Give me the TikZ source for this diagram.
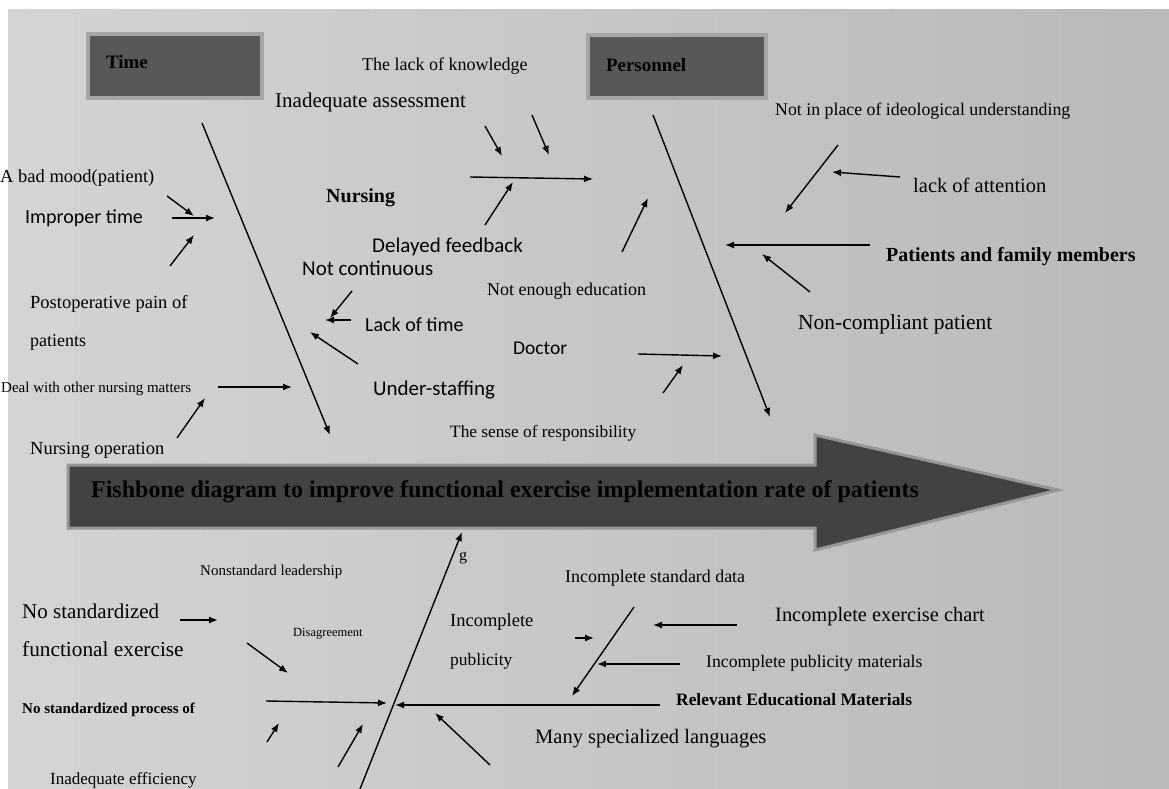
\documentclass[tikz,border=0pt]{standalone}
\usepackage{fontspec}
\setmainfont{Liberation Serif}
\newfontfamily\calfont{Carlito}
\usetikzlibrary{arrows.meta}
\newcommand\fsz[1]{\fontsize{#1}{#1}\selectfont}
\definecolor{bgL}{RGB}{212,212,212}
\definecolor{bgM}{RGB}{224,224,224}
\definecolor{bgR}{RGB}{185,185,185}
\definecolor{boxfill}{RGB}{88,88,88}
\definecolor{boxedge}{RGB}{165,165,165}
\definecolor{spinefill}{RGB}{66,66,66}
\definecolor{spineedge}{RGB}{150,150,150}
\tikzset{
  arr/.style={-{Latex[length=9pt,width=7pt]}, line width=1.4pt},
  lbl/.style={anchor=west, inner sep=0pt, text=black},
  ser/.style={lbl, font=\fsz{#1}},
  serb/.style={lbl, font=\bfseries\fsz{#1}},
  sans/.style={lbl, font=\calfont\fsz{#1}},
  catbox/.style={draw=boxedge, fill=boxfill, line width=4pt, inner xsep=17pt,
     anchor=west, text=black, font=\bfseries\fsz{19}, align=left}
}
\begin{document}
\begin{tikzpicture}[x=1pt,y=-1pt]
\useasboundingbox (0,0) rectangle (1169,789);
\fill[white] (0,0) rectangle (1169,789);
\shade[left color=bgL, middle color=bgM, right color=bgR] (8,10) rectangle (1169,789);

% category boxes
\node[catbox, minimum width=174pt, minimum height=64pt, text width=138pt] (time) at (86,66) {\raisebox{9pt}{Time}};
\node[catbox, minimum width=178pt, minimum height=63pt, text width=142pt] (pers) at (586,67) {\raisebox{4pt}{Personnel}};

% spine
\draw[fill=spinefill, draw=spineedge, line width=3pt]
  (68,465) -- (815,465) -- (815,435) -- (1058,490) -- (815,550) -- (815,528) -- (68,528) -- cycle;
\node[inner sep=0pt, font=\bfseries\fsz{24}] (spine) at (505,492)
  {Fishbone diagram to improve functional exercise implementation rate of patients};

% ---------- labels, top ----------
\node[ser=18] (lackk) at (362,66) {The lack of knowledge};
\node[ser=21] (inad) at (275,102) {Inadequate assessment};
\node[ser=18.5] (mood) at (0,178) {A bad mood(patient)};
\node[sans=20] (impr) at (25,218) {Improper time};
\node[serb=20] (nurs) at (326,198) {Nursing};
\node[sans=21] (delay) at (372,247) {Delayed feedback};
\node[sans=21] (notc) at (302,268) {Not continuous};
\node[ser=18.5] (post1) at (30,304) {Postoperative pain of};
\node[ser=18] (post2) at (30,342) {patients};
\node[sans=20] (lackt) at (365,325) {Lack of time};
\node[ser=18] (noted) at (487,291) {Not enough education};
\node[sans=19.5] (doct) at (513,348) {Doctor};
\node[ser=15] (deal) at (1,389) {Deal with other nursing matters};
\node[sans=21] (under) at (373,390) {Under-staffing};
\node[ser=18.5] (nop) at (30,450) {Nursing operation};
\node[ser=17.3] (sense) at (450,433) {The sense of responsibility};

\node[ser=17.8] (ideo) at (775,111) {Not in place of ideological understanding};
\node[ser=20.5] (atten) at (913,185) {lack of attention};
\node[serb=20] (patf) at (886,257) {Patients and family members};
\node[ser=21.5] (nonc) at (798,324) {Non-compliant patient};

% ---------- labels, bottom ----------
\node[ser=15] (lead) at (200,572) {Nonstandard leadership};
\node[ser=16] (g) at (459,558) {g};
\node[ser=17.9] (isd) at (565,578) {Incomplete standard data};
\node[ser=21] (nostd1) at (22,611) {No standardized};
\node[ser=21.3] (nostd2) at (22,649) {functional exercise};
\node[ser=12.5] (disag) at (293,634) {Disagreement};
\node[ser=18.5] (incp1) at (450,622) {Incomplete};
\node[ser=17.5] (incp2) at (450,661) {publicity};
\node[ser=20.4] (iec) at (775,617) {Incomplete exercise chart};
\node[ser=17.7] (ipm) at (706,663) {Incomplete publicity materials};
\node[serb=15] (nsp) at (22,710) {No standardized process of};
\node[serb=17.4] (rem) at (676,700) {Relevant Educational Materials};
\node[ser=20.5] (msl) at (535,739) {Many specialized languages};
\node[ser=17] (ineff) at (50,780) {Inadequate efficiency};

% ---------- coordinates ----------
\coordinate (tb1) at (202,123);   \coordinate (tb2) at (330,435);
\coordinate (a1s) at (167,196);   \coordinate (a1e) at (194,216);
\coordinate (a2s) at (172,218);   \coordinate (a2e) at (215,218);
\coordinate (a3s) at (170,266);   \coordinate (a3e) at (194,235);
\coordinate (a4s) at (352,291);   \coordinate (a4e) at (330,318);
\coordinate (a5s) at (351,320);   \coordinate (a5e) at (325,320);
\coordinate (a6s) at (358,364);   \coordinate (a6e) at (310,332);
\coordinate (a7s) at (218,387);   \coordinate (a7e) at (292,387);
\coordinate (a8s) at (177,438);   \coordinate (a8e) at (205,398);

\coordinate (nb1) at (470,177);   \coordinate (nb2) at (593,179);
\coordinate (n1s) at (485,126);   \coordinate (n1e) at (502,156);
\coordinate (n2s) at (532,115);   \coordinate (n2e) at (549,155);
\coordinate (n3s) at (485,225);   \coordinate (n3e) at (513,182);

\coordinate (pb1) at (653,115);   \coordinate (pb2) at (770,417);
\coordinate (p1s) at (622,252);   \coordinate (p1e) at (648,198);
\coordinate (p2s) at (838,145);   \coordinate (p2e) at (785,213);
\coordinate (p3s) at (900,177);   \coordinate (p3e) at (832,172);
\coordinate (p4s) at (870,245);   \coordinate (p4e) at (725,245);
\coordinate (p5s) at (810,292);   \coordinate (p5e) at (762,254);
\coordinate (db1) at (638,354);   \coordinate (db2) at (722,356);
\coordinate (d1s) at (663,393);   \coordinate (d1e) at (683,365);

\coordinate (lb1) at (360,789);   \coordinate (lb2) at (462,532);
\coordinate (b1s) at (180,620);   \coordinate (b1e) at (218,620);
\coordinate (b2s) at (247,643);   \coordinate (b2e) at (288,673);
\coordinate (b3s) at (266,701);   \coordinate (b3e) at (387,703);
\coordinate (b4s) at (267,742);   \coordinate (b4e) at (279,723);
\coordinate (b5s) at (338,767);   \coordinate (b5e) at (363,724);
\coordinate (rb1) at (660,705);   \coordinate (rb2) at (395,705);
\coordinate (b6s) at (490,765);   \coordinate (b6e) at (435,713);
\coordinate (sd1) at (634,607);   \coordinate (sd2) at (572,696);
\coordinate (b7s) at (575,638);   \coordinate (b7e) at (594,638);
\coordinate (b8s) at (737,625);   \coordinate (b8e) at (653,625);
\coordinate (b9s) at (680,664);   \coordinate (b9e) at (597,664);

% ---------- bones and arrows ----------
\draw[arr] (tb1) -- (tb2);
\foreach \k in {1,...,8} {\draw[arr] (a\k s) -- (a\k e);}
\draw[arr] (nb1) -- (nb2);
\foreach \k in {1,2,3} {\draw[arr] (n\k s) -- (n\k e);}
\draw[arr] (pb1) -- (pb2);
\foreach \k in {1,...,5} {\draw[arr] (p\k s) -- (p\k e);}
\draw[arr] (db1) -- (db2);
\draw[arr] (d1s) -- (d1e);
\draw[arr] (lb1) -- (lb2);
\draw[arr] (rb1) -- (rb2);
\draw[arr] (sd1) -- (sd2);
\foreach \k in {1,...,9} {\draw[arr] (b\k s) -- (b\k e);}
\end{tikzpicture}
\end{document}
